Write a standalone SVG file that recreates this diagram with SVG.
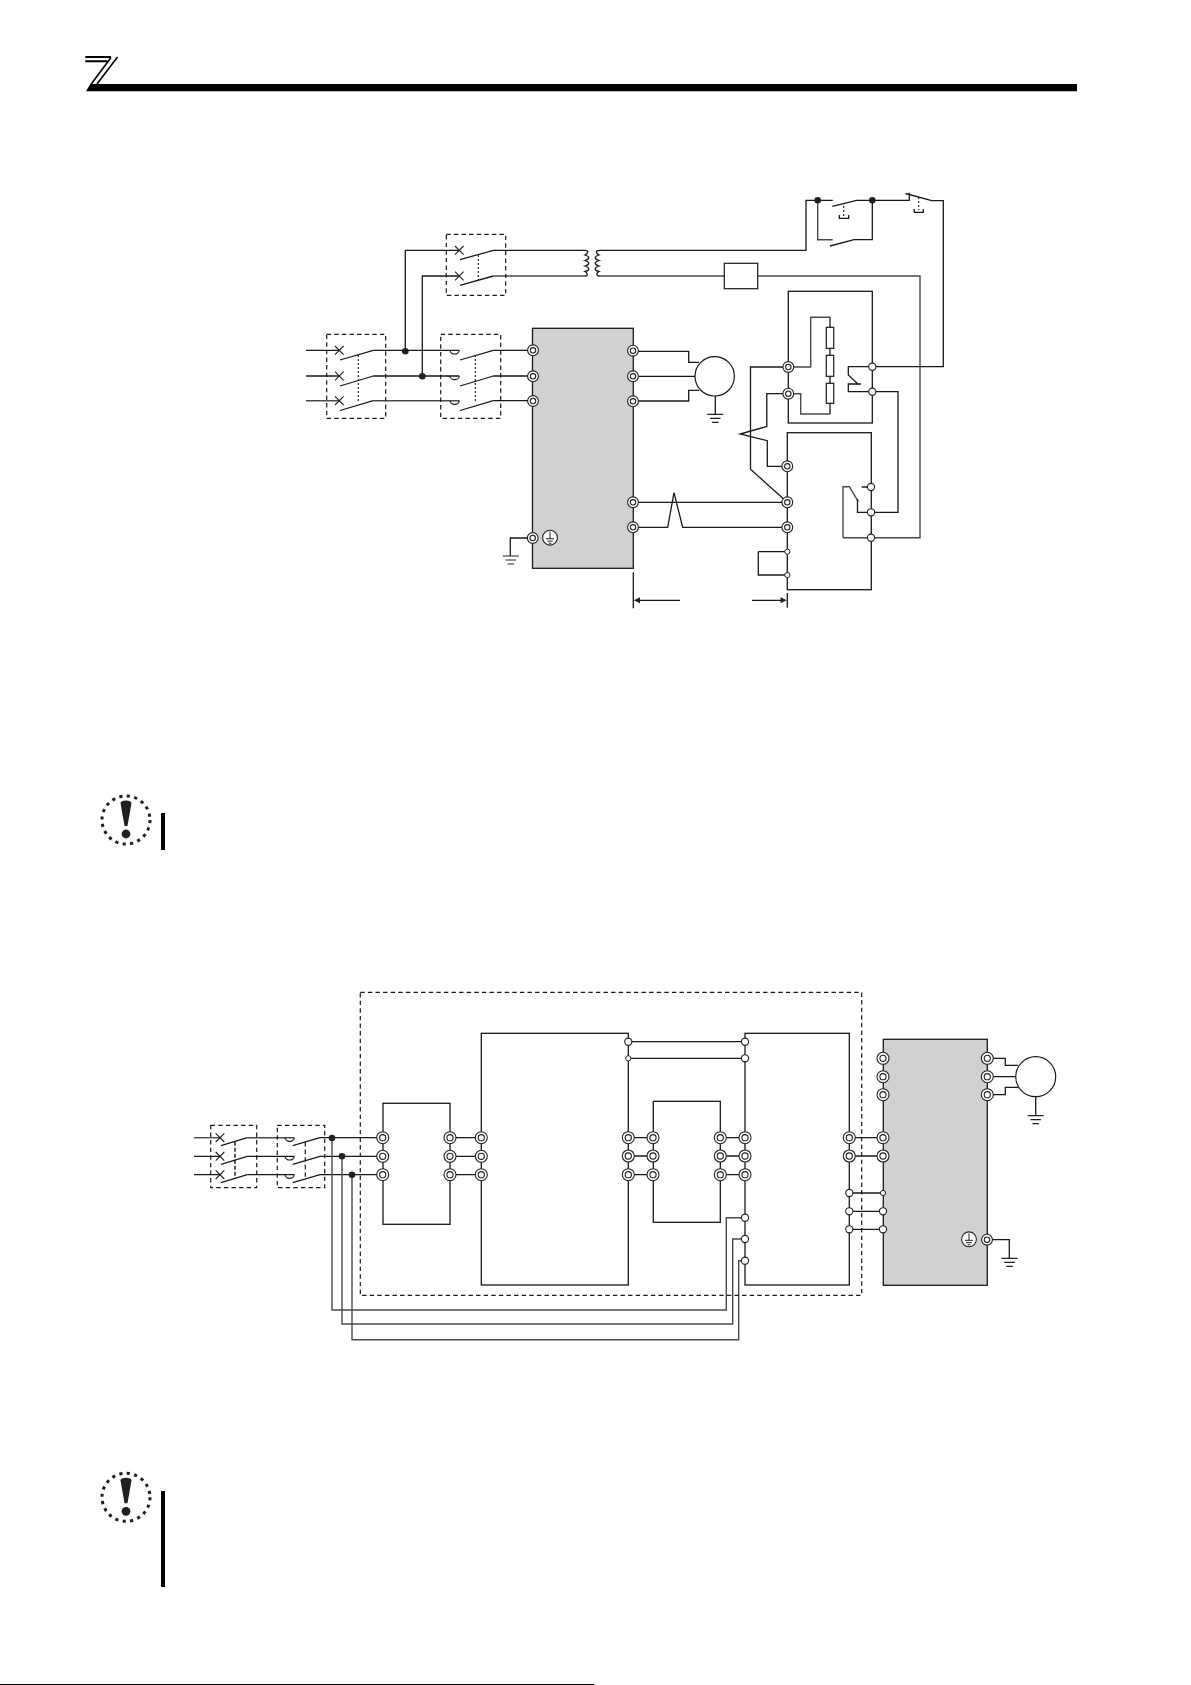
<svg xmlns="http://www.w3.org/2000/svg" width="1191" height="1685" viewBox="0 0 1191 1685">
<style>
.w{fill:none;stroke:#1a1718;stroke-width:1.3}
.g{fill:none;stroke:#4a4a4a;stroke-width:1.4}
.b{fill:#fff;stroke:#1a1718;stroke-width:1.2}
.d{fill:none;stroke:#1a1718;stroke-width:1.2;stroke-dasharray:4.4 3.2}
.dt{fill:none;stroke:#1a1718;stroke-width:1.1;stroke-dasharray:2 2}
.inv{fill:#d1d1d1;stroke:#1a1718;stroke-width:1.3}
.k{fill:#231f20;stroke:none}
.mk{fill:none;stroke:#231f20;stroke-width:3;stroke-dasharray:3.200 4.340}
</style>
<defs>
<g id="t"><circle r="5.4" fill="#fff" stroke="#231f20" stroke-width="1.1"/><circle r="2.7" fill="#fff" stroke="#231f20" stroke-width="1.1"/></g>
<g id="T"><circle r="6" fill="#fff" stroke="#231f20" stroke-width="1.1"/><circle r="3.1" fill="#fff" stroke="#231f20" stroke-width="1.1"/></g>
<circle id="o" r="3.6" fill="#fff" stroke="#231f20" stroke-width="1.1"/>
<circle id="s" r="2.6" fill="#fff" stroke="#231f20" stroke-width="1"/>
<circle id="j" r="3.3" fill="#231f20"/>
<path id="x" d="M-4.3-4.3L4.3 4.3M-4.3 4.3L4.3-4.3" fill="none" stroke="#231f20" stroke-width="1.1"/>
<path id="gnd" d="M-8 0H8M-5.2 4H5.2M-3.2 8H3.2" fill="none" stroke="#231f20" stroke-width="1.2"/>
<g id="pe"><circle r="7.4" fill="#fff" stroke="#231f20" stroke-width="1.1"/><path d="M0-6V1M-4 1H4M-2.8 3.4H2.8M-1.4 5.500H1.4" fill="none" stroke="#231f20" stroke-width="1"/></g>
<g id="note"><circle r="24" class="mk"/><path d="M-5.500-17C-5.500-18.500-3-19.500 0-19.500C3-19.500 5.500-18.500 5.500-17L1.500 6H-1.500Z" class="k"/><circle cy="14" r="4.400" class="k"/></g>
<path id="arc" d="M0 0A4.700 4.300 0 0 0 9.300 0" fill="none" stroke="#231f20" stroke-width="1.100"/>
</defs>

<g id="header">
<path d="M86 91.300L90.300 84H1077V91.300Z" fill="#000"/>
<path d="M85.300 56H111V58H85.300ZM85.300 60.300H107.500V62.300H85.300Z" fill="#000"/>
<path d="M111 57.500L90.500 85M117.500 57L97 84" fill="none" stroke="#000" stroke-width="1.600"/>
</g>

<g id="connectors">
<path class="w" d="M306 350.300H339.300M373.300 350.300H459.300M306 376H339.300M373.300 376H459.300"/>
<path class="g" d="M306 400.700H339.300M373.300 400.700H459.300"/>
<path class="w" d="M493.300 350.300H533M493.300 376H533M493.300 400.700H533"/>
<path class="w" d="M340 360L373.300 350.300M340 386L373.300 376M340 410.500L373.300 400.700"/>
<path class="w" d="M460 360L493.300 350.300M460 386L493.300 376M460 410.500L493.300 400.700"/>
<path class="w" d="M405.300 351V250.300H459.300M422.300 376V276H459.300"/>
<path class="w" d="M460 259.700L493.300 250.300H585M460 285.300L493.300 276"/>
<path class="g" d="M493.300 276H585"/>
<path class="w" d="M585 250.300C590 250.300 587 254 585 255C590 256.500 590 259 585 260.500C590 262 590 264.500 585 266C590 267.500 590 270.500 585 271.500C587 272.500 589 276 585 276"/>
<path class="w" d="M600 250.300C594 250.300 597 254 599 255C594 256.500 594 259 599 260.500C594 262 594 264.500 599 266C594 267.500 594 270.500 599 271.500C597 272.500 595 276 600 276"/>
<path class="w" d="M600 250.300H806V200.300H832.700M832.300 206.300L856.700 200.300H909.300V192.700M905.500 193.500L931.700 200.700H943.300V366.700H872.300"/>
<path class="g" d="M817.700 200.300V239.700H832.700"/>
<path class="w" d="M830 246L854 239.700H872.300V200.300"/>
<path class="dt" d="M843.700 206V216M918.700 197V210"/>
<path class="w" d="M839.300 215V218.300H848.700V215M914.300 209V212.300H923.300V209"/>
<path class="g" d="M600 276H724.300M757.700 276H920V537.700H843"/>
<path class="w" d="M633 351.300H688.700V362.300H699M633 376.300H695M633 401H688.700V390.300H699M715.300 396V414.300"/>
<path class="g" d="M830 317.300H810.700V367H788.300"/>
<path class="g" d="M830 414H800.700V393.700H788.300"/>
<path class="w" d="M830 317.300V403.300M830 403.300V414"/>
<path class="w" d="M872.300 366.700H848.300V375L858 384H848.300V391.700H872.300M858 384H861"/>
<path class="w" d="M788.300 367H750.500V469.300L787.300 502.300"/>
<path class="w" d="M788.300 393.700H766.800V426.500L740 434L767.300 440.700V466.300H787.300"/>
<path class="w" d="M872.300 391.700H898V512.300H871"/>
<path class="g" d="M843 537.700V486.700H849.300L858.300 501.700"/>
<path class="w" d="M857.500 499V505V512.300H871M861.700 487H871"/>
<path class="w" d="M633 502.300H787.300M633 527.300H667.700L674 492.700L682.700 527.300H787.300"/>
<path class="w" d="M758.300 551.700V575H787.300M787.300 551.700H758.300"/>
<path class="w" d="M528 538H510.300V556"/>
<path class="w" d="M633.300 572.300V608.300M787.300 593V607.700M639 600.300H680M752 600.300H782"/>
<path class="k" d="M633.800 600.300L640 597.300V603.300ZM786.800 600.300L780.500 597.300V603.300Z"/>

<path class="g" d="M194 1137.700H220"/>
<path class="w" d="M194 1156.300H220M194 1174.700H220"/>
<path class="g" d="M247.300 1137.700H294.300"/>
<path class="w" d="M247.300 1156.300H294.300M247.300 1174.700H294.300"/>
<path class="w" d="M221 1145.700L247.300 1137.700M221 1164.300L247.300 1156.300M221 1182.700L247.300 1174.700"/>
<path class="w" d="M292.700 1145.700L320 1137.700H382.700M292.700 1164.300L320 1156.300H382.700M292.700 1182.700L320 1174.700H382.700"/>
<path class="w" d="M450 1137.700H481.300M450 1156.300H481.300M450 1174.700H481.300"/>
<path class="w" d="M628.300 1137.700H653M628.300 1156H653M628.300 1174.700H653"/>
<path class="w" d="M720.300 1137.700H745M720.300 1156H745M720.300 1174.700H745"/>
<path class="w" d="M628.300 1041.700H745M628.300 1058.300H745"/>
<path class="w" d="M849.300 1137.700H883M849.300 1156H883M849.300 1193H883M849.300 1211.300H883M849.300 1229.300H883"/>
<path class="g" d="M745 1217.700H726.300V1310H332V1138"/>
<path class="g" d="M745 1239H732.700V1324H342V1156.300"/>
<path class="g" d="M745 1260.700H738.700V1339.700H352V1174.700"/>
<path class="w" d="M987.300 1058.300H1005.300V1065.300H1018M987.300 1076.700H1015.700M987.300 1094.700H1005.300V1087.300H1018M1035.700 1096.700V1115.700"/>
<path class="w" d="M987 1239.700H1009.300V1258.300"/>
</g>

<g id="breaker-aux"><rect class="d" x="446.300" y="234.300" width="59.400" height="61"/><path class="dt" d="M478.300 255V280"/><use href="#x" x="459.300" y="250.300"/><use href="#x" x="459.300" y="276"/></g>
<g id="breaker-main"><rect class="d" x="326.700" y="334.300" width="59" height="84"/><path class="dt" d="M358.300 355V403"/><use href="#x" x="339.300" y="350.300"/><use href="#x" x="339.300" y="376"/><use href="#x" x="339.300" y="400.700"/></g>
<g id="contactor-main"><rect class="d" x="440.700" y="334.300" width="60" height="84"/><path class="dt" d="M475.300 355V403"/><use href="#arc" x="450" y="350.300"/><use href="#arc" x="450" y="376"/><use href="#arc" x="450" y="400.700"/></g>
<g id="junctions"><use href="#j" x="405.300" y="351.300"/><use href="#j" x="422.300" y="376.300"/><use href="#j" x="817.700" y="200.300"/><use href="#j" x="872.300" y="200.300"/><use href="#j" x="332" y="1138"/><use href="#j" x="342" y="1156.300"/><use href="#j" x="352" y="1174.700"/></g>

<g id="inverter-upper"><rect class="inv" x="532.500" y="328.300" width="100.800" height="240"/>
<use href="#t" x="533" y="350.300"/><use href="#t" x="533" y="376.300"/><use href="#t" x="533" y="401"/>
<use href="#t" x="633" y="350.700"/><use href="#t" x="633" y="376.300"/><use href="#t" x="633" y="401.300"/>
<use href="#t" x="633" y="502.300"/><use href="#t" x="633" y="527.300"/><use href="#t" x="532.700" y="538"/><use href="#pe" x="550" y="537.700"/></g>
<g id="ground-upper"><use href="#gnd" x="510.800" y="556"/></g>
<g id="motor-upper"><circle class="b" cx="714.700" cy="376.300" r="19.700"/><use href="#gnd" x="715.300" y="414.300"/></g>
<g id="thermal"><rect class="b" x="724.300" y="263.300" width="33.400" height="25.400"/></g>
<g id="relay-box"><rect class="w" x="788.300" y="291.300" width="84" height="131.700"/>
<rect class="b" x="826.300" y="327.300" width="7.400" height="21"/><rect class="b" x="826.300" y="355.300" width="7.400" height="21"/><rect class="b" x="826.300" y="383.300" width="7.400" height="20"/>
<use href="#t" x="788.300" y="367"/><use href="#t" x="788.300" y="393.700"/><use href="#o" x="872.300" y="366.700"/><use href="#o" x="872.300" y="391.700"/></g>
<g id="unit-box"><rect class="w" x="787.300" y="432.700" width="84" height="157"/>
<use href="#t" x="787.300" y="466.300"/><use href="#t" x="787.300" y="502.300"/><use href="#t" x="787.300" y="527.300"/><use href="#s" x="787.300" y="551.700"/><use href="#s" x="787.300" y="575"/>
<use href="#o" x="871" y="487"/><use href="#o" x="871" y="512.300"/><use href="#o" x="871" y="537.700"/></g>

<g id="note-1"><use href="#note" x="126" y="820"/><rect x="161" y="813" width="4" height="37" fill="#000"/></g>

<rect id="option-frame" class="d" x="360.300" y="992.300" width="501.400" height="303"/>
<g id="breaker-lower"><rect class="d" x="210.700" y="1125.300" width="46" height="62.400"/><path d="M235 1141.700V1178.300" fill="none" stroke="#231f20" stroke-width="1.500" stroke-dasharray="4 2"/><use href="#x" x="220" y="1137.700"/><use href="#x" x="220" y="1156.300"/><use href="#x" x="220" y="1174.700"/></g>
<g id="contactor-lower"><rect class="d" x="277.300" y="1125.300" width="47.400" height="62.400"/><path class="d" d="M305.300 1142V1180"/><use href="#arc" x="285" y="1137.700"/><use href="#arc" x="285" y="1156.300"/><use href="#arc" x="285" y="1174.700"/></g>
<g id="box-1"><rect class="w" x="383" y="1103.300" width="67" height="121"/><use href="#T" x="382.700" y="1137.700"/><use href="#T" x="382.700" y="1156.300"/><use href="#T" x="382.700" y="1174.700"/><use href="#T" x="450" y="1137.700"/><use href="#T" x="450" y="1156.300"/><use href="#T" x="450" y="1174.700"/></g>
<g id="box-2"><rect class="w" x="481.300" y="1033.300" width="147" height="251.700"/><use href="#T" x="481.300" y="1137.700"/><use href="#T" x="481.300" y="1156.300"/><use href="#T" x="481.300" y="1174.700"/><use href="#T" x="628.300" y="1137.700"/><use href="#T" x="628.300" y="1156"/><use href="#T" x="628.300" y="1174.700"/><use href="#o" x="628.300" y="1041.700"/><use href="#s" x="628.300" y="1058.300"/></g>
<g id="box-3"><rect class="w" x="653.300" y="1101.300" width="67" height="121"/><use href="#T" x="653" y="1137.700"/><use href="#T" x="653" y="1156"/><use href="#T" x="653" y="1174.700"/><use href="#T" x="720.300" y="1137.700"/><use href="#T" x="720.300" y="1156"/><use href="#T" x="720.300" y="1174.700"/></g>
<g id="box-4"><rect class="w" x="745" y="1033.300" width="104.300" height="251.700"/><use href="#o" x="745" y="1041.700"/><use href="#o" x="745" y="1058.300"/><use href="#T" x="745" y="1137.700"/><use href="#T" x="745" y="1156"/><use href="#T" x="745" y="1174.700"/><use href="#o" x="745" y="1217.700"/><use href="#o" x="745" y="1239"/><use href="#o" x="745" y="1260.700"/><use href="#T" x="849.300" y="1137.700"/><use href="#T" x="849.300" y="1156"/><use href="#o" x="849.300" y="1193"/><use href="#o" x="849.300" y="1211.300"/><use href="#o" x="849.300" y="1229.300"/></g>
<g id="inverter-lower"><rect class="inv" x="883.300" y="1039.300" width="104" height="246"/>
<use href="#T" x="883" y="1058.300"/><use href="#T" x="883" y="1076.700"/><use href="#T" x="883" y="1094.700"/><use href="#T" x="883" y="1137.700"/><use href="#T" x="883" y="1156"/><use href="#s" x="883" y="1193"/><use href="#o" x="883" y="1211.300"/><use href="#o" x="883" y="1229.300"/>
<use href="#T" x="987.300" y="1058.300"/><use href="#T" x="987.300" y="1076.700"/><use href="#T" x="987.300" y="1094.700"/><use href="#t" x="987" y="1239.700"/><use href="#pe" x="969" y="1239.300"/></g>
<g id="motor-lower"><circle class="b" cx="1035.700" cy="1076.700" r="20"/><use href="#gnd" x="1035.700" y="1115.700"/></g>
<g id="ground-lower"><use href="#gnd" x="1009.500" y="1258.300"/></g>

<g id="note-2"><use href="#note" x="126" y="1497.300"/><rect x="161" y="1491" width="4" height="96" fill="#000"/></g>
<rect id="footer-rule" x="0" y="1684" width="594" height="1" fill="#000"/>
</svg>
